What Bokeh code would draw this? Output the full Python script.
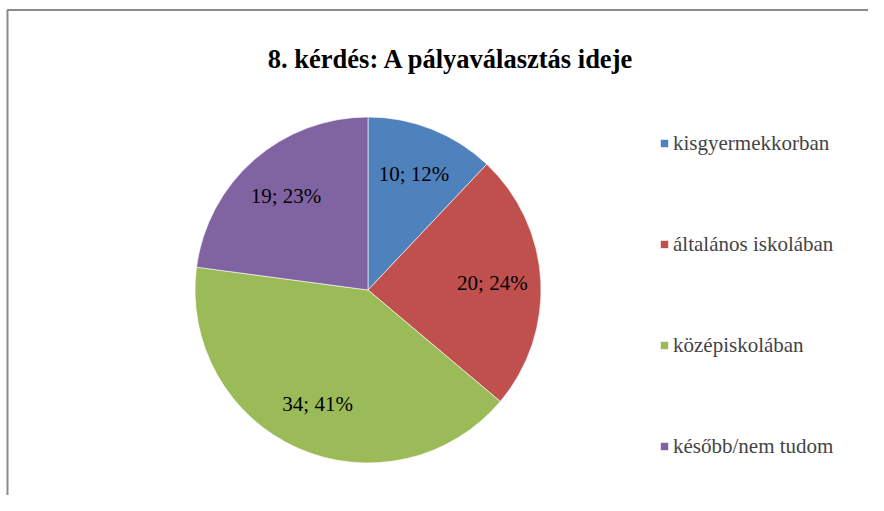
import math
from bokeh.plotting import figure
from bokeh.models import ColumnDataSource, Range1d, Label, Legend, LegendItem, LabelSet
from bokeh.core.properties import value
from bokeh.embed import file_html
from bokeh.resources import INLINE

categories = ["kisgyermekkorban", "általános iskolában", "középiskolában", "később/nem tudom"]
values = [10, 20, 34, 19]
colors = ["#4F81BD", "#C0504D", "#9BBB59", "#8064A2"]
title_text = "8. kérdés: A pályaválasztás ideje"

W, H = 868, 495
CX, CY, R = 367.5, 205.5, 173
SERIF = "'Liberation Serif', 'Times New Roman', serif"

total = sum(values)
starts, ends, lx, ly, labels = [], [], [], [], []
cum = 0
for v in values:
    a0 = math.pi / 2 - 2 * math.pi * cum / total
    cum += v
    a1 = math.pi / 2 - 2 * math.pi * cum / total
    starts.append(a0)
    ends.append(a1)
    mid = (a0 + a1) / 2
    lx.append(CX + 0.72 * R * math.cos(mid))
    ly.append(CY + 0.72 * R * math.sin(mid))
    labels.append(f"{v}; {round(100 * v / total)}%")

src = ColumnDataSource(dict(cat=categories, val=values, color=colors,
                            start=starts, end=ends))
lab_src = ColumnDataSource(dict(x=lx, y=ly, text=labels))

p = figure(width=W, height=H, output_backend="svg", toolbar_location=None,
           x_range=Range1d(0, W), y_range=Range1d(0, H), min_border=0,
           tools="")
p.axis.visible = False
p.grid.visible = False
p.outline_line_color = None
p.background_fill_color = "white"
p.border_fill_color = "white"

# chart-area frame (top and left edges visible)
p.line(x=[7, 7, W + 20], y=[-20, H - 9.5, H - 9.5], line_color="#8a8a8a", line_width=2)

r = p.wedge(x=CX, y=CY, radius=R, start_angle="start", end_angle="end",
            direction="clock", fill_color="color", line_color="white",
            line_width=0.6, source=src)

p.add_layout(LabelSet(x="x", y="y", text="text", source=lab_src,
                      text_font=value(SERIF), text_font_size=value("21px"),
                      text_align="center", text_baseline="middle",
                      text_color="black"))

p.add_layout(Label(x=451, y=437, text=title_text,
                   text_font=SERIF, text_font_style="bold",
                   text_font_size="26.5px", text_align="center",
                   text_baseline="alphabetic", text_color="black"))

items = [LegendItem(label=c, renderers=[r], index=i) for i, c in enumerate(categories)]
legend = Legend(items=items, location=(659, 36), padding=0, margin=0,
                spacing=75, label_height=26, glyph_height=10, glyph_width=10,
                label_standoff=4, label_text_font=SERIF,
                label_text_font_size="21px", border_line_color=None,
                background_fill_alpha=0)
p.add_layout(legend, "center")

open("out.html", "w").write(file_html(p, INLINE))
